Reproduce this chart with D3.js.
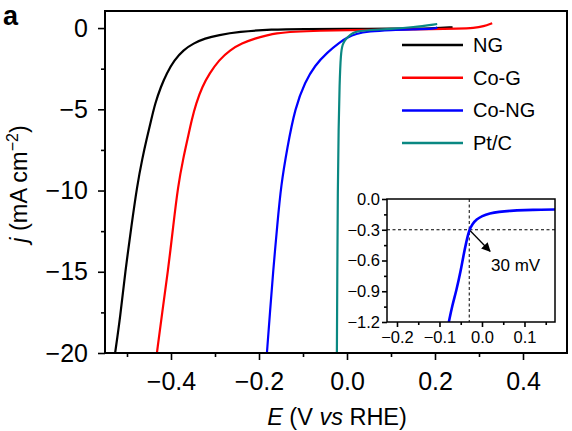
<!DOCTYPE html>
<meta charset="utf-8">
<script src="https://d3js.org/d3.v7.min.js"></script>
<style>
  body { margin: 0; background: #fff; }
  svg text { font-family: "Liberation Sans", Arial, Helvetica, sans-serif; fill: #000; }
</style>
<body>
<div id="my_dataviz"></div>
<script>

// polarisation curves, E in V vs RHE, j in mA cm-2
var seriesNames = ["NG", "Co-G", "Co-NG", "Pt/C"];
var seriesColors = ["#000000", "#ff0000", "#0000ff", "#0a8882"];

var ngE = [-0.527, -0.515, -0.504, -0.49, -0.477, -0.465, -0.455, -0.445, -0.436, -0.423, -0.41, -0.3925, -0.372, -0.349, -0.323, -0.292, -0.247, -0.171, -0.1, 0.0, 0.1, 0.2, 0.24];
var ngJ = [-20, -17.7, -15, -12.2, -9.7, -8.0, -6.79, -5.66, -4.63, -3.61, -2.79, -1.97, -1.35, -0.94, -0.63, -0.43, -0.23, -0.08, -0.06, -0.05, -0.04, -0.02, 0.05];

var cogE = [-0.432, -0.42, -0.407, -0.395, -0.384, -0.372, -0.362, -0.353, -0.343, -0.329, -0.3125, -0.291, -0.266, -0.239, -0.209, -0.179, -0.164, -0.12, -0.06, 0.0, 0.1, 0.2, 0.25, 0.29, 0.31, 0.33];
var cogJ = [-20, -17.5, -15, -12.2, -9.7, -8.0, -6.79, -5.66, -4.63, -3.61, -2.79, -1.97, -1.35, -0.94, -0.63, -0.43, -0.33, -0.22, -0.16, -0.13, -0.1, -0.07, -0.04, 0.0, 0.1, 0.3];

var congE = [-0.182, -0.175, -0.168, -0.158, -0.15, -0.136, -0.118, -0.095, -0.073, -0.045, -0.016, 0.0, 0.02, 0.05, 0.1, 0.15, 0.2, 0.205];
var congJ = [-20, -17.5, -15, -12, -9.7, -7.4, -4.9, -3.3, -2.3, -1.5, -0.86, -0.6, -0.35, -0.2, -0.12, -0.08, -0.05, 0.05];

var ptcE = [-0.023, -0.022, -0.021, -0.019, -0.017, -0.014, -0.01, -0.005, 0.0, 0.008, 0.018, 0.03, 0.05, 0.1, 0.15, 0.205];
var ptcJ = [-20, -15, -10, -6, -3.5, -1.5, -1.0, -0.75, -0.6, -0.4, -0.25, -0.18, -0.12, -0.05, 0.05, 0.25];

// inset: Co-NG close to onset
var insetE = [-0.078, -0.07, -0.06, -0.05, -0.044, -0.037, -0.03, -0.022, -0.013, 0.0, 0.018, 0.04, 0.065, 0.1, 0.14, 0.175];
var insetJ = [-1.2, -1.04, -0.89, -0.7, -0.56, -0.42, -0.3, -0.24, -0.2, -0.165, -0.14, -0.125, -0.115, -0.108, -0.104, -0.102];

var xMajor = [-0.4, -0.2, 0.0, 0.2, 0.4];
var xMinor = [-0.5, -0.3, -0.1, 0.1, 0.3];
var yMajor = [0, -5, -10, -15, -20];
var yMinor = [-2.5, -7.5, -12.5, -17.5];
var insetXMajor = [-0.2, -0.1, 0.0, 0.1];
var insetXMinor = [-0.15, -0.05, 0.05, 0.15];
var insetYMajor = [0.0, -0.3, -0.6, -0.9, -1.2];
var insetYMinor = [-0.15, -0.45, -0.75, -1.05];
var onsetE = -0.03, onsetJ = -0.3;

var allE = [ngE, cogE, congE, ptcE];
var allJ = [ngJ, cogJ, congJ, ptcJ];

var W = 572, H = 431;
var svg = d3.select("#my_dataviz").append("svg")
  .attr("width", W).attr("height", H);

var x = d3.scaleLinear().domain([-0.55, 0.5]).range([105, 567]);
var y = d3.scaleLinear().domain([-20, 1.05]).range([353, 11]);

function styleAxis(g, size) {
  g.select(".domain").remove();
  g.selectAll("line").attr("stroke", "#000").attr("stroke-width", 1.6);
  g.selectAll("text").style("font-size", size + "px").attr("fill", "#000");
}

// minor ticks first
svg.append("g").attr("transform", "translate(0,353)")
  .call(d3.axisBottom(x).tickValues(xMinor).tickSize(4).tickFormat(""))
  .call(styleAxis, 25);
svg.append("g").attr("transform", "translate(105,0)")
  .call(d3.axisLeft(y).tickValues(yMinor).tickSize(4).tickFormat(""))
  .call(styleAxis, 25);

// major ticks
svg.append("g").attr("transform", "translate(0,353)")
  .call(d3.axisBottom(x).tickValues(xMajor).tickSize(7).tickPadding(12).tickFormat(d3.format(".1f")))
  .call(styleAxis, 25);
svg.append("g").attr("transform", "translate(105,0)")
  .call(d3.axisLeft(y).tickValues(yMajor).tickSize(7).tickPadding(10).tickFormat(d3.format("d")))
  .call(styleAxis, 25);

// curves
svg.append("clipPath").attr("id", "main-clip")
  .append("rect").attr("x", 105).attr("y", 11).attr("width", 462).attr("height", 342);

var line = d3.line()
  .x(function (d) { return x(d[0]); })
  .y(function (d) { return y(d[1]); })
  .curve(d3.curveBasis);

seriesNames.forEach(function (name, i) {
  var pts = allE[i].map(function (e, k) { return [e, allJ[i][k]]; });
  svg.append("path")
    .datum(pts)
    .attr("clip-path", "url(#main-clip)")
    .attr("fill", "none")
    .attr("stroke", seriesColors[i])
    .attr("stroke-width", 2.2)
    .attr("stroke-linejoin", "round")
    .attr("d", line);
});

// frame
svg.append("rect")
  .attr("x", 105).attr("y", 11).attr("width", 462).attr("height", 342)
  .attr("fill", "none").attr("stroke", "#000").attr("stroke-width", 2);

// legend
var legend = svg.append("g");
seriesNames.forEach(function (name, i) {
  var ly = 45 + i * 32.7;
  legend.append("line")
    .attr("x1", 402).attr("x2", 463).attr("y1", ly).attr("y2", ly)
    .attr("stroke", seriesColors[i]).attr("stroke-width", 2.5);
  legend.append("text")
    .attr("x", 473).attr("y", ly + 7)
    .style("font-size", "20px")
    .text(name);
});

// axis titles
var xt = svg.append("text")
  .attr("x", 337).attr("y", 425)
  .attr("text-anchor", "middle")
  .style("font-size", "23.5px");
xt.append("tspan").style("font-style", "italic").text("E");
xt.append("tspan").text(" (V ");
xt.append("tspan").style("font-style", "italic").text("vs");
xt.append("tspan").text(" RHE)");

var yt = svg.append("text")
  .attr("transform", "translate(27,184) rotate(-90)")
  .attr("text-anchor", "middle")
  .style("font-size", "23.5px");
yt.append("tspan").style("font-style", "italic").text("j");
yt.append("tspan").text(" (mA cm");
yt.append("tspan").attr("dy", -9).style("font-size", "16px").text("−2");
yt.append("tspan").attr("dy", 9).text(")");

// panel letter
svg.append("text")
  .attr("x", 3).attr("y", 25)
  .style("font-size", "27px").style("font-weight", "bold")
  .text("a");

// ---------- inset ----------
var ix = d3.scaleLinear().domain([-0.2235, 0.1718]).range([387, 555]);
var iy = d3.scaleLinear().domain([-1.2, 0]).range([322, 199]);

svg.append("rect")
  .attr("x", 387).attr("y", 199).attr("width", 168).attr("height", 123)
  .attr("fill", "#fff");

svg.append("g").attr("transform", "translate(0,322)")
  .call(d3.axisBottom(ix).tickValues(insetXMinor).tickSize(3).tickFormat(""))
  .call(styleAxis, 16.5);
svg.append("g").attr("transform", "translate(387,0)")
  .call(d3.axisLeft(iy).tickValues(insetYMinor).tickSize(3).tickFormat(""))
  .call(styleAxis, 16.5);
svg.append("g").attr("transform", "translate(0,322)")
  .call(d3.axisBottom(ix).tickValues(insetXMajor).tickSize(5).tickPadding(4).tickFormat(d3.format(".1f")))
  .call(styleAxis, 16.5);
svg.append("g").attr("transform", "translate(387,0)")
  .call(d3.axisLeft(iy).tickValues(insetYMajor).tickSize(5).tickPadding(2).tickFormat(d3.format(".1f")))
  .call(styleAxis, 16.5);

// dashed guides
svg.append("line")
  .attr("x1", ix(onsetE)).attr("x2", ix(onsetE)).attr("y1", 199).attr("y2", 322)
  .attr("stroke", "#000").attr("stroke-width", 1).attr("stroke-dasharray", "3,2.5");
svg.append("line")
  .attr("x1", 387).attr("x2", 555).attr("y1", iy(onsetJ)).attr("y2", iy(onsetJ))
  .attr("stroke", "#000").attr("stroke-width", 1).attr("stroke-dasharray", "3,2.5");

svg.append("clipPath").attr("id", "inset-clip")
  .append("rect").attr("x", 387).attr("y", 199).attr("width", 168).attr("height", 123);

var iline = d3.line()
  .x(function (d) { return ix(d[0]); })
  .y(function (d) { return iy(d[1]); })
  .curve(d3.curveBasis);

svg.append("path")
  .datum(insetE.map(function (e, k) { return [e, insetJ[k]]; }))
  .attr("clip-path", "url(#inset-clip)")
  .attr("fill", "none").attr("stroke", "#0000ff").attr("stroke-width", 2.6)
  .attr("d", iline);

// arrow to 30 mV
svg.append("defs").append("marker")
  .attr("id", "arrowhead").attr("viewBox", "0 0 10 10")
  .attr("refX", 9).attr("refY", 5)
  .attr("markerWidth", 7).attr("markerHeight", 7)
  .attr("orient", "auto")
  .append("path").attr("d", "M0,0 L10,5 L0,10 z").attr("fill", "#000");

svg.append("line")
  .attr("x1", ix(onsetE) + 1).attr("y1", iy(onsetJ) + 1)
  .attr("x2", ix(0.019)).attr("y2", iy(-0.51))
  .attr("stroke", "#000").attr("stroke-width", 1.3)
  .attr("marker-end", "url(#arrowhead)");

svg.append("text")
  .attr("x", 491).attr("y", 271)
  .style("font-size", "17px")
  .text("30 mV");

svg.append("rect")
  .attr("x", 387).attr("y", 199).attr("width", 168).attr("height", 123)
  .attr("fill", "none").attr("stroke", "#000").attr("stroke-width", 1.5);

</script>
</body>
